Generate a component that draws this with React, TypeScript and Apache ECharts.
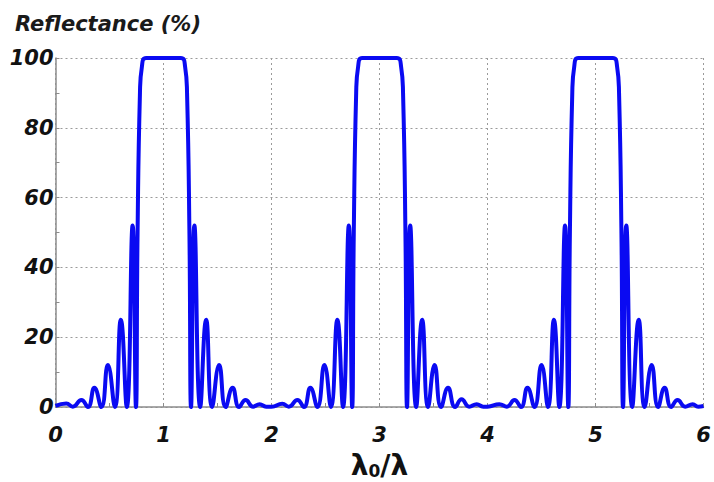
import React, { useEffect, useRef } from "react";
import * as echarts from "echarts";

// [λ0/λ, reflectance %]: peaks and zeros of each lobe, stop-band edges
const segment0to2: [number, number][] = [
  [0.0, 0.3], [0.10, 1.0], [0.16, 0.1], [0.24, 2.0], [0.30, 0], [0.36, 5.5],
  [0.425, 0], [0.485, 12], [0.55, 0], [0.605, 25], [0.66, 0], [0.714, 52],
  [0.745, 0], [0.76, 50], [0.782, 90], [0.80, 97.5], [0.84, 100], [1.16, 100],
  [1.20, 97.5], [1.218, 90], [1.24, 50], [1.255, 0],
  [1.286, 52], [1.34, 0], [1.395, 25], [1.45, 0], [1.515, 12], [1.575, 0],
  [1.64, 5.5], [1.70, 0], [1.76, 2.0], [1.83, 0.1], [1.89, 0.8], [1.95, 0.1],
];
const segment2to4: [number, number][] = [
  [2.0, 0.1], [2.10, 0.9], [2.16, 0.1], [2.24, 2.0], [2.30, 0], [2.36, 5.5],
  [2.425, 0], [2.49, 12], [2.55, 0], [2.61, 25], [2.662, 0], [2.716, 52],
  [2.747, 0], [2.762, 50], [2.784, 90], [2.802, 97.5], [2.84, 100], [3.16, 100],
  [3.20, 97.5], [3.218, 90], [3.24, 50], [3.255, 0],
  [3.284, 52], [3.34, 0], [3.395, 25], [3.45, 0], [3.51, 12], [3.57, 0],
  [3.635, 5.5], [3.70, 0], [3.76, 2.2], [3.83, 0.1], [3.90, 0.8], [3.96, 0.1],
];
const segment4to6: [number, number][] = [
  [4.0, 0.1], [4.11, 0.8], [4.18, 0.1], [4.25, 2.0], [4.31, 0], [4.37, 5.5],
  [4.435, 0], [4.50, 12], [4.56, 0], [4.615, 25], [4.665, 0], [4.718, 52],
  [4.748, 0], [4.763, 50], [4.785, 90], [4.803, 97.5], [4.84, 100], [5.16, 100],
  [5.20, 97.5], [5.218, 90], [5.24, 50], [5.255, 0],
  [5.285, 52], [5.34, 0], [5.40, 25], [5.455, 0], [5.52, 12], [5.58, 0],
  [5.64, 5.5], [5.70, 0], [5.76, 2.0], [5.83, 0.1], [5.90, 0.8], [5.95, 0.1],
  [6.0, 0.3],
];

const xTicks = [0, 1, 2, 3, 4, 5, 6];
const yTicks = [0, 20, 40, 60, 80, 100];

const FONT = "DejaVu Sans";

export default function App() {
  const ref = useRef<HTMLDivElement>(null);
  useEffect(() => {
    if (!ref.current) return;
    const chart = echarts.init(ref.current, null, { renderer: "svg" });
    const data = [...segment0to2, ...segment2to4, ...segment4to6];
    const axisColor = "#8c8c8c";
    const labelStyle = {
      fontFamily: FONT,
      fontStyle: "italic" as const,
      fontWeight: "bold" as const,
      fontSize: 21,
      color: "#111",
    };
    chart.setOption({
      animation: false,
      backgroundColor: "#fff",
      title: {
        text: "Reflectance (%)",
        left: 10,
        top: 8,
        textStyle: { ...labelStyle, fontSize: 21, color: "#1a1a1a" },
      },
      grid: { left: 55.5, right: 10.5, top: 58, bottom: 75, outerBoundsMode: "none", containLabel: false },
      xAxis: {
        type: "value",
        min: xTicks[0],
        max: xTicks[xTicks.length - 1],
        interval: 1,
        name: "{l|λ}{s|0}{l|/λ}",
        nameLocation: "middle",
        nameGap: 40,
        nameTextStyle: {
          rich: {
            l: { fontFamily: FONT, fontWeight: "bold", fontSize: 28, lineHeight: 32, verticalAlign: "bottom", color: "#111" },
            s: { fontFamily: FONT, fontWeight: "bold", fontSize: 17, lineHeight: 17, verticalAlign: "bottom", color: "#111" },
          },
        },
        axisLine: { show: true, lineStyle: { color: axisColor, width: 1.5 } },
        axisTick: { show: true, inside: true, length: 4, lineStyle: { color: axisColor } },
        minorTick: { show: true, splitNumber: 2, length: 4, lineStyle: { color: axisColor } },
        splitLine: { show: true, lineStyle: { color: "#9a9a9a", width: 1, type: [2, 3] } },
        axisLabel: { ...labelStyle, margin: 17 },
      },
      yAxis: {
        type: "value",
        min: yTicks[0],
        max: yTicks[yTicks.length - 1],
        interval: 20,
        axisLine: { show: true, lineStyle: { color: axisColor, width: 1.5 } },
        axisTick: { show: true, inside: true, length: 4, lineStyle: { color: axisColor } },
        minorTick: { show: true, splitNumber: 2, length: 4, lineStyle: { color: axisColor } },
        splitLine: { show: true, lineStyle: { color: "#9a9a9a", width: 1, type: [2, 3] } },
        axisLabel: { ...labelStyle, margin: 2, padding: [6, 0, 0, 0] },
      },
      series: [
        {
          type: "line",
          data,
          showSymbol: false,
          smooth: 0.5,
          clip: false,
          lineStyle: { color: "#0a0af2", width: 4 },
        },
      ],
    });
    return () => chart.dispose();
  }, []);
  return (
    <div
      ref={ref}
      style={{ position: "fixed", left: 0, top: 0, width: 714, height: 482 }}
    />
  );
}
